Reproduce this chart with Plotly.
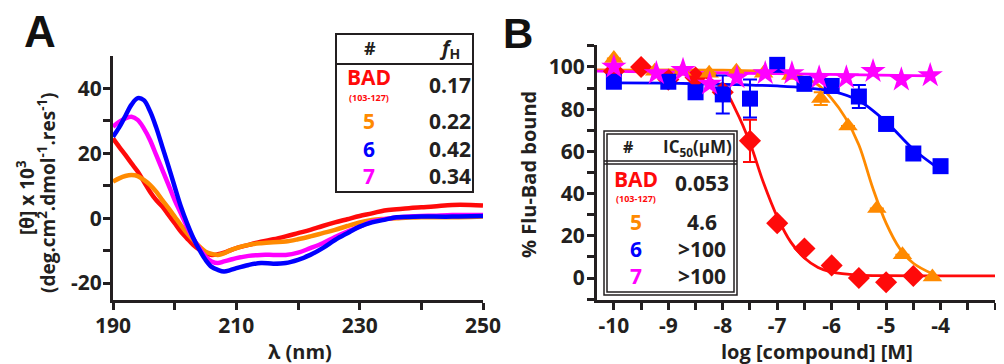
import plotly.graph_objects as go

# ---------------- Panel A data (CD spectra) ----------------
wl = [190, 191, 192, 193, 194, 195, 196, 197, 198, 199, 200, 201, 202, 203, 204, 205,
      206, 207, 208, 209, 210, 212, 214, 216, 218, 220, 222, 224, 226, 228, 230, 232,
      234, 236, 238, 240, 242, 245, 248, 250]
cd_bad = [24.6, 22.0, 19.5, 16.9, 14.4, 11.3, 8.2, 5.6, 3.6, 1.0, -1.5, -4.1, -6.2, -8.2, -9.7, -10.8,
          -11.3, -11.1, -10.6, -9.9, -9.2, -8.2, -7.2, -6.5, -5.6, -4.6, -3.6, -2.4, -1.3, -0.3, 0.7, 1.5,
          2.4, 2.8, 3.1, 3.4, 3.6, 4.1, 4.1, 3.9]
cd_5 = [11.3, 12.3, 13.0, 13.3, 13.0, 11.8, 10.3, 8.2, 5.6, 3.1, 0.5, -2.1, -4.6, -6.7, -8.7, -10.3,
        -11.0, -11.3, -10.8, -9.9, -9.2, -8.2, -7.7, -7.4, -7.2, -6.5, -5.6, -4.6, -3.6, -2.4, -1.3, -0.5,
        -0.2, 0.0, 0.2, 0.3, 0.3, 0.3, 0.4, 0.5]
cd_6 = [25.1, 28.0, 31.5, 35.0, 37.0, 36.4, 33.0, 28.0, 22.0, 16.0, 9.7, 3.6, -1.5, -6.0, -9.7, -12.8,
        -15.0, -15.9, -16.4, -16.0, -15.4, -14.4, -13.8, -14.0, -13.8, -12.8, -11.3, -9.2, -6.7, -4.6, -2.6, -1.3,
        -0.5, 0.3, 0.4, 0.5, 0.5, 0.5, 0.6, 0.7]
cd_7 = [28.2, 29.7, 30.8, 31.3, 30.3, 27.7, 24.1, 19.5, 14.9, 10.3, 5.6, 1.5, -2.6, -6.2, -9.2, -11.8,
        -13.3, -13.8, -13.3, -12.8, -12.3, -11.6, -11.3, -11.3, -11.3, -10.6, -9.2, -7.7, -5.8, -4.1, -2.6, -1.0,
        -0.3, 0.2, 0.5, 0.7, 0.8, 1.0, 1.0, 1.0]

# ---------------- Panel B data (FP competition) ----------------
bad_x = [-10, -9.5, -9, -8.5, -8, -7.5, -7, -6.5, -6, -5.5, -5, -4.5]
bad_y = [98, 100, 94, 95, 88, 65, 26, 14, 6, 0, -2, 1]
bad_err = [None, None, None, None, None, 10, None, None, None, None, None, None]

c5_x = [-10, -9.25, -8.75, -8.25, -7.75, -7.25, -6.75, -6.2, -5.7, -5.17, -4.7, -4.15]
c5_y = [104, 98, 98, 97, 98, 97, 96, 85, 72, 33, 11, 0.5]
c5_err = [None, None, None, None, None, None, None, 3, None, None, None, None]

c6_x = [-10, -9, -8.5, -8, -7.5, -7, -6.5, -6, -5.5, -5, -4.5, -4]
c6_y = [93, 93, 88, 87, 85, 101, 92, 91, 86, 73, 59, 53]
c6_err = [None, None, None, 9, 9, None, None, None, 5.5, None, None, None]

c7_x = [-10, -9.22, -8.73, -8.24, -7.74, -7.22, -6.73, -6.23, -5.73, -5.24, -4.72, -4.19]
c7_y = [100, 97, 98.5, 92, 95, 97, 97, 95, 95, 98, 94, 96]

# fitted curves
fit_bad_x = [-10.31, -9, -8.5, -8.0, -7.75, -7.5, -7.25, -7.0, -6.75, -6.5, -6.25, -6.0, -5.5, -5.0, -4.0, -3.0]
fit_bad_y = [98.5, 98, 97, 90, 79, 64, 45, 29, 17, 9.5, 5, 2.8, 1.4, 1.1, 1.0, 1.0]
fit_5_x = [-10.31, -8.0, -7.0, -6.5, -6.25, -6.0, -5.75, -5.5, -5.25, -5.0, -4.75, -4.5, -4.15]
fit_5_y = [98.5, 98.5, 97.5, 95, 91.5, 85, 76, 63, 43, 26, 14, 7, 2]
fit_6_x = [-10, -9, -8, -7, -6.5, -6, -5.5, -5, -4.5, -4.04]
fit_6_y = [92.5, 92.3, 91.8, 91, 90.2, 88.5, 84, 74, 61, 52]
fit_7_x = [-10.31, -7, -4.19]
fit_7_y = [98, 96.8, 95.8]

table_a_names = ["BAD", "5", "6", "7"]
table_a_fh = ["0.17", "0.22", "0.42", "0.34"]
table_b_ic50 = ["0.053", "4.6", ">100", ">100"]

RED = "#ff0a0a"
ORANGE = "#ff8a00"
BLUE = "#0000ff"
MAG = "#ff00ff"
INK = "#231f20"
colors = [RED, ORANGE, BLUE, MAG]

# the page body has an 8px margin: the figure is drawn from (8, 8) in the window
OFF = 8
W, H = 1004 - OFF, 364 - OFF
def X(px): return (px - OFF) / W
def Y(py): return 1 - (py - OFF) / H

FONT = "Open Sans"

fig = go.Figure()

# Panel A curves
for ys, c in [(cd_bad, RED), (cd_5, ORANGE), (cd_7, MAG), (cd_6, BLUE)]:
    fig.add_trace(go.Scatter(x=wl, y=ys, mode="lines", line=dict(color=c, width=4.5, shape="spline"),
                             xaxis="x", yaxis="y", showlegend=False, cliponaxis=False))

# Panel B fits
for fx, fy, c in [(fit_bad_x, fit_bad_y, RED), (fit_5_x, fit_5_y, ORANGE), (fit_6_x, fit_6_y, BLUE), (fit_7_x, fit_7_y, MAG)]:
    fig.add_trace(go.Scatter(x=fx, y=fy, mode="lines", line=dict(color=c, width=2.8, shape="spline"),
                             xaxis="x2", yaxis="y2", showlegend=False))

def pts(x, y, err, c, sym, size):
    kw = {}
    if err is not None:
        kw["error_y"] = dict(type="data", array=err, symmetric=True, color=c, thickness=2, width=7)
    return go.Scatter(x=x, y=y, mode="markers", marker=dict(color=c, symbol=sym, size=size, line=dict(width=0)),
                      xaxis="x2", yaxis="y2", showlegend=False, cliponaxis=False, **kw)

fig.add_trace(pts(bad_x, bad_y, bad_err, RED, "diamond", 17))
fig.add_trace(pts(c5_x, c5_y, c5_err, ORANGE, "triangle-up", 17))
fig.add_trace(pts(c6_x, c6_y, c6_err, BLUE, "square", 16))
fig.add_trace(pts(c7_x, c7_y, None, MAG, "star", 19))

tickfont = dict(family=FONT, size=21, color=INK, weight="bold")
axis_common = dict(showline=True, linewidth=3, linecolor=INK, ticks="outside", ticklen=7, tickwidth=2.5,
                   tickcolor=INK, showgrid=False, zeroline=False, tickfont=tickfont, fixedrange=True,
                   automargin=False)
minor_common = dict(tickmode="array", ticklen=7, tickwidth=2.5, tickcolor=INK, ticks="outside", showgrid=False)

fig.update_layout(
    width=W, height=H, margin=dict(l=0, r=0, t=0, b=0, autoexpand=False),
    plot_bgcolor="white", paper_bgcolor="white", showlegend=False,
    xaxis=dict(domain=[X(113), X(483)], range=[190, 250], anchor="y",
               tickmode="array", tickvals=[190, 210, 230, 250], ticktext=["190", "210", "230", "250"],
               minor=dict(tickvals=[200, 220, 240], **minor_common), ticklabelstandoff=-2,
               **axis_common),
    yaxis=dict(domain=[Y(300), Y(56)], range=[-25.2, 50], anchor="x",
               tickmode="array", tickvals=[-20, 0, 20, 40], ticktext=["-20", "0", "20", "40"],
               minor=dict(tickvals=[-10, 10, 30], **minor_common), ticklabelstandoff=-3,
               **axis_common),
    xaxis2=dict(domain=[X(597), X(995)], range=[-10.31, -3], anchor="y2",
                tickmode="array", tickvals=[-10, -9, -8, -7, -6, -5, -4, -3],
                ticktext=["-10", "-9", "-8", "-7", "-6", "-5", "-4", "-3"],
                minor=dict(tickvals=[-9.5, -8.5, -7.5, -6.5, -5.5, -4.5, -3.5], **minor_common),
                ticklabelstandoff=-2,
                **axis_common),
    yaxis2=dict(domain=[Y(300), Y(45)], range=[-10.4, 110.4], anchor="x2",
                tickmode="array", tickvals=[0, 20, 40, 60, 80, 100], ticktext=["0", "20", "40", "60", "80", "100"],
                minor=dict(tickvals=[-10, 10, 30, 50, 70, 90, 110], **minor_common), ticklabelstandoff=-2,
                **axis_common),
)

ann = []
def txt(text, px, py, size, color=INK, angle=0, xanchor="center", family=FONT, height=None):
    a = dict(text=text, x=X(px), y=Y(py), xref="paper", yref="paper", showarrow=False,
             xanchor=xanchor, yanchor="middle", textangle=angle,
             font=dict(family=family, size=size, color=color, weight="bold"))
    if height is not None:
        a["height"] = height
        a["valign"] = "middle"
    ann.append(a)

# panel letters
txt("A", 40, 31, 44, "#111111", family="Liberation Sans", height=38)
txt("B", 518, 33, 42, "#111111", family="Liberation Sans", height=38)

# axis titles
txt("λ (nm)", 300, 351, 20)
txt("log [compound] [M]", 817, 351, 20)
txt("[θ] x 10<sup>3</sup>", 26, 198, 19, angle=-90)
txt("(deg.cm<sup>2</sup>.dmol<sup>-1</sup>.res<sup>-1</sup>)", 47, 193, 19, angle=-90)
txt("% Flu-Bad bound", 528, 175, 20, angle=-90)

shapes = []
# Table A
shapes.append(dict(type="rect", xref="paper", yref="paper", x0=X(336), x1=X(473), y0=Y(192), y1=Y(34),
                   line=dict(color=INK, width=2), fillcolor="white", layer="above"))
shapes.append(dict(type="line", xref="paper", yref="paper", x0=X(336), x1=X(473), y0=Y(64), y1=Y(64),
                   line=dict(color=INK, width=2), layer="above"))
txt("#", 370, 48, 18)
txt("<i>f</i><sub>H</sub>", 449, 48, 20)
rows_a = [85, 121, 149, 176]
for i, (n, v) in enumerate(zip(table_a_names, table_a_fh)):
    if i == 0:
        txt(n, 369, 77, 21, colors[i])
        txt("(103-127)", 369, 97, 9, colors[i])
    else:
        txt(n, 369, rows_a[i], 21, colors[i])
    txt(v, 450, rows_a[i], 21)

# Table B (double border)
shapes.append(dict(type="rect", xref="paper", yref="paper", x0=X(604), x1=X(737), y0=Y(295), y1=Y(131),
                   line=dict(color=INK, width=1.5), fillcolor="white", layer="above"))
shapes.append(dict(type="rect", xref="paper", yref="paper", x0=X(607), x1=X(734), y0=Y(292), y1=Y(134),
                   line=dict(color=INK, width=1.5), layer="above"))
shapes.append(dict(type="line", xref="paper", yref="paper", x0=X(604), x1=X(737), y0=Y(161), y1=Y(161),
                   line=dict(color=INK, width=1.5), layer="above"))
shapes.append(dict(type="line", xref="paper", yref="paper", x0=X(604), x1=X(737), y0=Y(164), y1=Y(164),
                   line=dict(color=INK, width=1.5), layer="above"))
txt("#", 628, 147, 16)
txt("IC<sub>50</sub>(µM)", 697, 147, 17)
rows_b = [183, 222, 249, 276]
for i, (n, v) in enumerate(zip(table_a_names, table_b_ic50)):
    if i == 0:
        txt(n, 636, 179, 21, colors[i])
        txt("(103-127)", 636, 198, 9, colors[i])
    else:
        txt(n, 636, rows_b[i], 21, colors[i])
    txt(v, 702, rows_b[i], 21)

fig.update_layout(annotations=ann, shapes=shapes)
fig.write_html("out.html")
